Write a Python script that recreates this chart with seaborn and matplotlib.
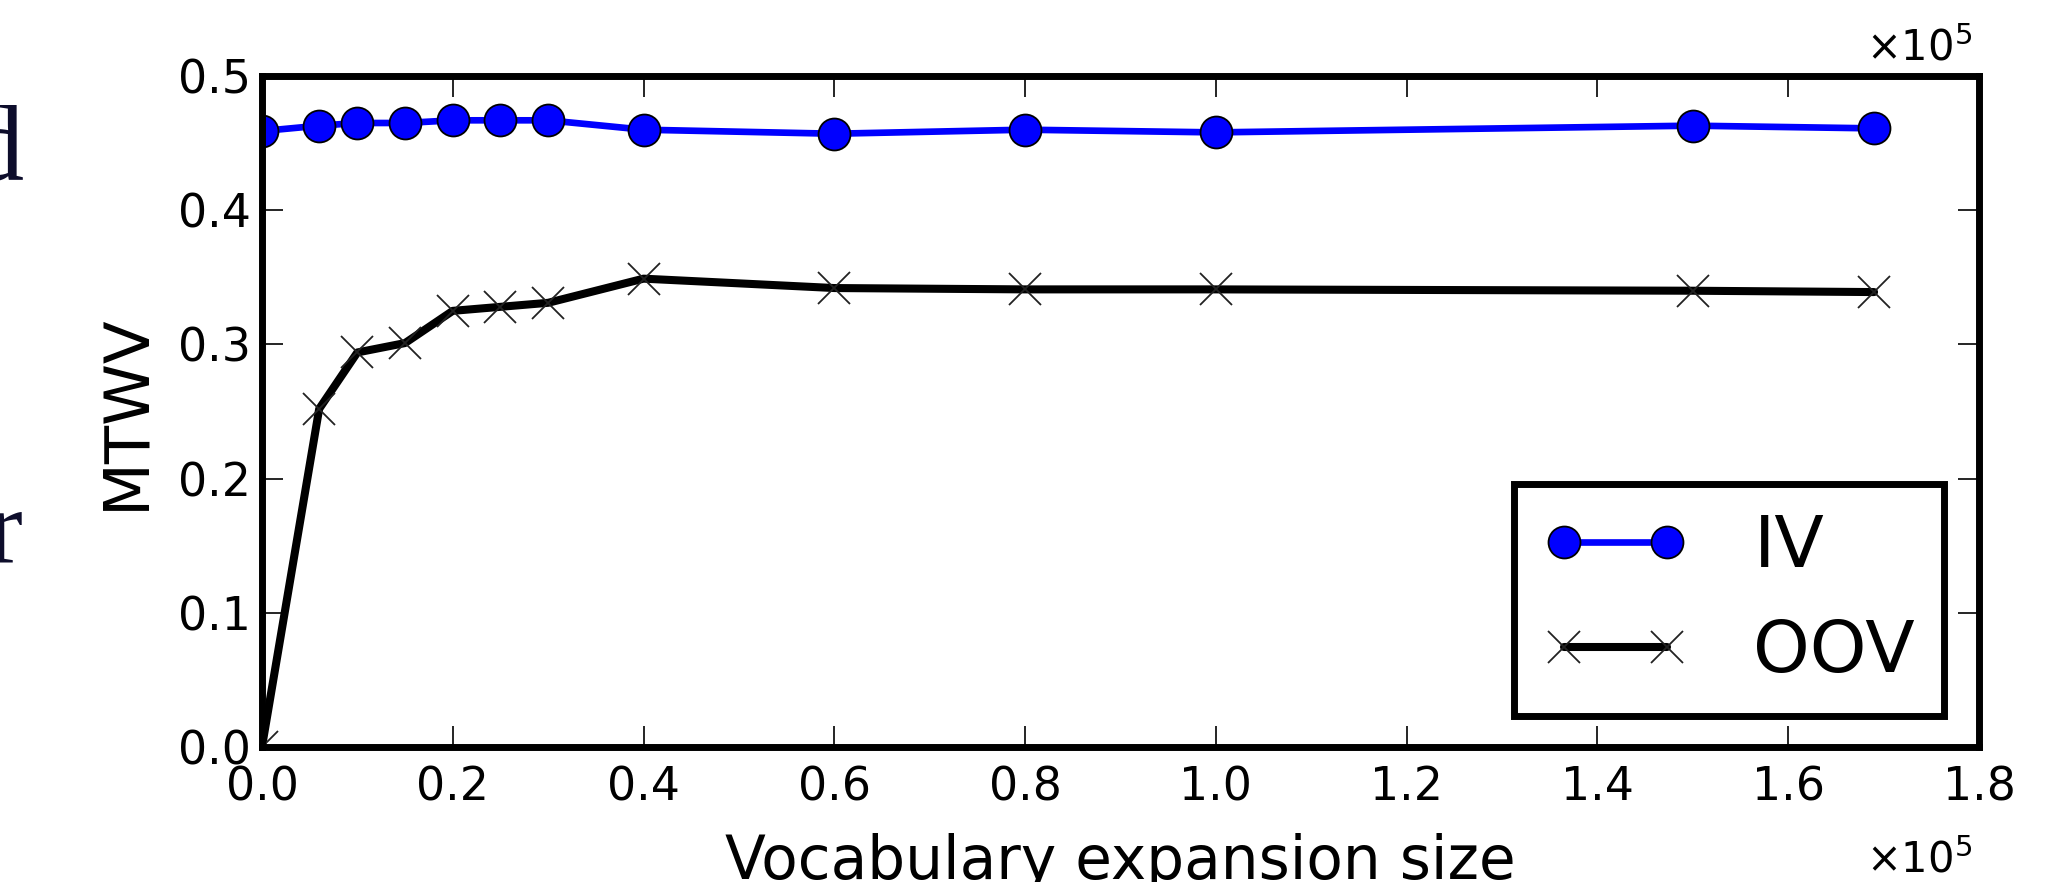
#!/usr/bin/env python3

from matplotlib import pyplot as plt
from matplotlib.ticker import FuncFormatter, MultipleLocator
import pandas as pd
import seaborn as sns


# Vocabulary expansion size and MTWV

expansion_size = [
        0, 6000, 10000, 15000, 20000, 25000, 30000,
        40000, 60000, 80000, 100000, 150000, 169000,
        ]
mtwv_iv = [
        0.459, 0.463, 0.465, 0.465, 0.467, 0.467, 0.467,
        0.460, 0.457, 0.460, 0.458, 0.463, 0.461,
        ]
mtwv_oov = [
        0.000, 0.252, 0.294, 0.301, 0.325, 0.328, 0.331,
        0.349, 0.342, 0.341, 0.341, 0.340, 0.339,
        ]
x_ticks = [0.0, 0.2, 0.4, 0.6, 0.8, 1.0, 1.2, 1.4, 1.6, 1.8]
y_ticks = [0.0, 0.1, 0.2, 0.3, 0.4, 0.5]


def main():
    df = pd.DataFrame({
            "size": expansion_size,
            "IV": mtwv_iv,
            "OOV": mtwv_oov,
            })

    sns.set_style("white")
    plt.rcParams["font.family"] = ["DejaVu Sans"]
    plt.rcParams["text.color"] = "black"
    plt.rcParams["axes.labelcolor"] = "black"
    plt.rcParams["xtick.color"] = "black"
    plt.rcParams["ytick.color"] = "black"

    fig = plt.figure(figsize=(20.61, 8.82), dpi=100)
    ax = fig.add_axes([0.1271, 0.1531, 0.8331, 0.7607])

    sns.lineplot(
            data=df, x="size", y="IV", ax=ax, color="#0000ff",
            linewidth=4.8, marker="o", markersize=23,
            markerfacecolor="#0000ff", markeredgecolor="black",
            markeredgewidth=1.3, label="IV", errorbar=None,
            )
    sns.lineplot(
            data=df, x="size", y="OOV", ax=ax, color="black",
            linewidth=5.8, marker="x", markersize=23,
            markeredgecolor="#222222", markeredgewidth=1.3,
            label="OOV", errorbar=None,
            )

    ax.set_xlim(0, x_ticks[-1] * 1e5)
    ax.set_ylim(y_ticks[0], y_ticks[-1])
    ax.xaxis.set_major_locator(MultipleLocator(0.2e5))
    ax.yaxis.set_major_locator(MultipleLocator(0.1))
    ax.xaxis.set_major_formatter(FuncFormatter(lambda v, p: f"{v / 1e5:.1f}"))
    ax.yaxis.set_major_formatter(FuncFormatter(lambda v, p: f"{v:.1f}"))

    ax.tick_params(
            which="major", direction="in", length=15, width=1.2,
            labelsize=33, top=True, right=True, bottom=True, left=True,
            colors="black",
            )
    ax.tick_params(axis="x", pad=13)
    ax.tick_params(axis="y", pad=8)

    for spine in ax.spines.values():
        spine.set_color("black")
        spine.set_linewidth(5)

    ax.set_xlabel("Vocabulary expansion size", fontsize=43)
    ax.set_ylabel("MTWV", fontsize=45)
    ax.xaxis.set_label_coords(0.5, -0.128)
    ax.yaxis.set_label_coords(-0.0617, 0.5)

    # Offset markers, drawn twice as in the original figure
    ax.text(
            0.996, 1.01, r"$\times10^{5}$", transform=ax.transAxes,
            ha="right", va="bottom", fontsize=30,
            )
    ax.text(
            0.996, -0.187, r"$\times10^{5}$", transform=ax.transAxes,
            ha="right", va="baseline", fontsize=30,
            )

    leg = ax.legend(
            loc="lower right", bbox_to_anchor=(0.9796, 0.046),
            borderaxespad=0, fontsize=52, numpoints=2, handlelength=2.03,
            handletextpad=0.89, labelspacing=0.5, borderpad=0.4,
            fancybox=False, framealpha=1, edgecolor="black",
            )
    leg.get_frame().set_linewidth(5)

    # Cropped body text of the surrounding page
    for letter, y in [("d", 180), ("r", 563)]:
        fig.text(
                23 / 2061, 1 - y / 882, letter, ha="right", va="baseline",
                fontsize=78, color="#0d0d2b", family=["Liberation Serif"],
                )

    fig.savefig("out.png", dpi=100)


if __name__ == "__main__":
    main()
